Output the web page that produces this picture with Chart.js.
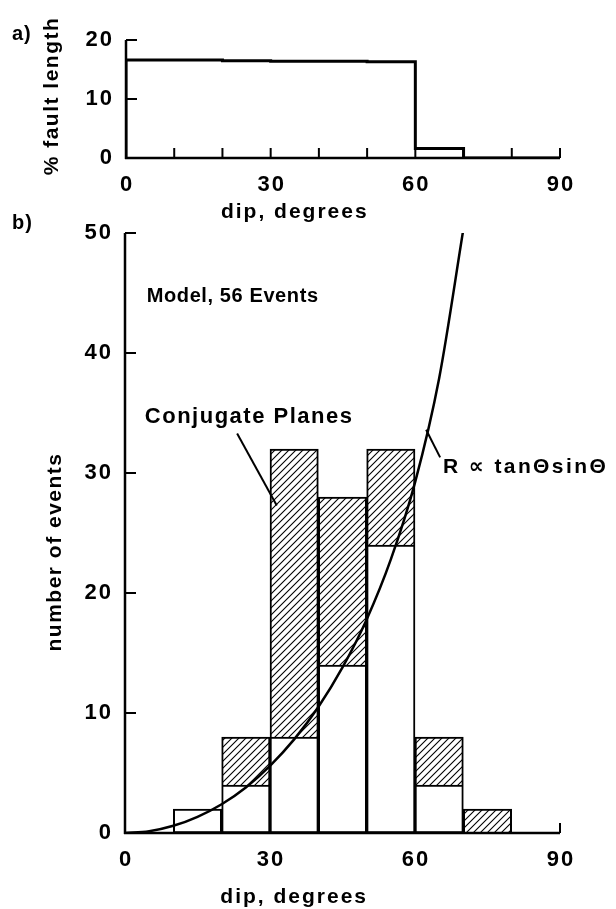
<!DOCTYPE html>
<html>
<head>
<meta charset="utf-8">
<script src="https://cdn.jsdelivr.net/npm/chart.js@4.4.1/dist/chart.umd.min.js"></script>
<style>
  html, body { margin: 0; padding: 0; background: #fff; }
  #wrap { position: relative; width: 616px; height: 909px; overflow: hidden; }
  canvas { position: absolute; left: 0; }
  #faultChart { top: 0; }
  #eventChart { top: 200px; }
</style>
</head>
<body>
<div id="wrap">
  <canvas id="faultChart" width="616" height="230"></canvas>
  <canvas id="eventChart" width="616" height="709"></canvas>
</div>
<script>
// a) fault length per 10 degree dip bin
const binEdges = [0, 10, 20, 30, 40, 50, 60, 70, 80, 90];
const faultLength = [16.6, 16.6, 16.5, 16.4, 16.4, 16.3, 1.6, 0, 0];

// b) events per dip bin (bin centres)
const binCenters = [15, 25, 35, 45, 55, 65, 75];
const modelEvents = [2, 4, 8, 14, 24, 4, 0];
const conjugateEvents = [0, 4, 24, 14, 8, 4, 2];

// R ~ tan(theta) sin(theta) curve
const curveDip = [0, 5, 10, 15, 20, 25, 30, 35, 40, 45, 50, 55, 60, 65, 70];
const curveR = [0, 0.15, 0.6, 1.35, 2.4, 3.8, 5.6, 7.8, 10.5, 13.8, 17.8, 22.8, 29.2, 37.9, 50.3];

// ticks
const dipTicks = [0, 30, 60, 90];
const dipMinorTicks = [10, 20, 30, 40, 50, 60, 70, 80, 90];
const faultTicks = [0, 10, 20];
const eventTicks = [0, 10, 20, 30, 40, 50];

const FONT = "'Liberation Sans', Arial, 'DejaVu Sans', sans-serif";

function drawText(ctx, text, x, y, opts) {
    ctx.save();
    ctx.font = opts.font;
    ctx.letterSpacing = (opts.spacing || 0) + 'px';
    ctx.fillStyle = '#000';
    ctx.textAlign = opts.align || 'left';
    ctx.textBaseline = 'middle';
    ctx.translate(x, y);
    if (opts.rotate) ctx.rotate(opts.rotate);
    ctx.fillText(text, 0, 0);
    ctx.restore();
}

function line(ctx, x1, y1, x2, y2) {
    ctx.beginPath();
    ctx.moveTo(x1, y1);
    ctx.lineTo(x2, y2);
    ctx.stroke();
}

// axes, inward ticks and all texts
function axisDecor(cfg) {
    return {
        id: 'axisDecor',
        afterDatasetsDraw(chart) {
            const { ctx, scales: { x, y } } = chart;
            ctx.save();
            ctx.strokeStyle = '#000';
            ctx.lineCap = 'butt';
            ctx.lineWidth = 2.5;
            line(ctx, x.left, y.top, x.left, y.bottom + 1);
            line(ctx, x.left - 1, y.bottom, x.right, y.bottom);
            ctx.lineWidth = 2;
            cfg.yTicks.forEach(v => {
                const py = y.getPixelForValue(v);
                line(ctx, x.left, py, x.left + 11, py);
            });
            cfg.xMinor.forEach(v => {
                const px = x.getPixelForValue(v);
                line(ctx, px, y.bottom, px, y.bottom - 10);
            });
            ctx.restore();

            const tickFont = 'bold 22px ' + FONT;
            cfg.yTicks.forEach(v => {
                drawText(ctx, String(v), x.left - 12, y.getPixelForValue(v),
                    { font: tickFont, spacing: 2, align: 'right' });
            });
            dipTicks.forEach(v => {
                drawText(ctx, String(v), x.getPixelForValue(v) + 1, y.bottom + cfg.xLabelGap,
                    { font: tickFont, spacing: 2, align: 'center' });
            });
            drawText(ctx, 'dip, degrees', x.getPixelForValue(35), y.bottom + cfg.xTitleGap,
                { font: 'bold 21px ' + FONT, spacing: 2, align: 'center' });
            drawText(ctx, cfg.yTitle, cfg.yTitleX, (y.top + y.bottom) / 2 + cfg.yTitleShift,
                { font: 'bold 21px ' + FONT, spacing: 1.5, align: 'center', rotate: -Math.PI / 2 });
            drawText(ctx, cfg.panel, 12, cfg.panelY, { font: 'bold 20px ' + FONT, spacing: 1 });
            if (cfg.extra) cfg.extra(chart);
        }
    };
}

// hatch for the conjugate planes
function makeHatch() {
    const c = document.createElement('canvas');
    c.width = 7; c.height = 7;
    const g = c.getContext('2d');
    g.fillStyle = '#fff';
    g.fillRect(0, 0, 7, 7);
    g.strokeStyle = '#000';
    g.lineWidth = 1.1;
    g.beginPath();
    g.moveTo(-1, 8); g.lineTo(8, -1);
    g.moveTo(-1, 1); g.lineTo(1, -1);
    g.moveTo(6, 8); g.lineTo(8, 6);
    g.stroke();
    return g.createPattern(c, 'repeat');
}

const hiddenScale = { display: false };

// ---- a) % fault length ----
const faultPoints = [{ x: binEdges[0], y: 0 }]
    .concat(faultLength.map((v, i) => ({ x: binEdges[i], y: v })))
    .concat([{ x: binEdges[binEdges.length - 1], y: 0 }]);

new Chart(document.getElementById('faultChart'), {
    type: 'line',
    data: {
        datasets: [{
            data: faultPoints,
            stepped: 'before',
            borderColor: '#000',
            borderWidth: 3,
            pointRadius: 0,
            fill: false
        }]
    },
    options: {
        responsive: false,
        animation: false,
        devicePixelRatio: 1,
        layout: { padding: { left: 126, right: 56, top: 40, bottom: 72 } },
        plugins: { legend: { display: false }, tooltip: { enabled: false } },
        scales: {
            x: { ...hiddenScale, type: 'linear', min: 0, max: 90 },
            y: { ...hiddenScale, min: 0, max: 20 }
        }
    },
    plugins: [axisDecor({
        yTicks: faultTicks,
        xMinor: dipMinorTicks,
        xLabelGap: 27,
        xTitleGap: 54,
        yTitle: '% fault length',
        yTitleX: 52,
        yTitleShift: -3,
        panel: 'a)',
        panelY: 34
    })]
});

// ---- b) number of events ----
const annotations = [
    { text: 'Model, 56 Events', x: 4.5, y: 44.7, size: 20, spacing: 0.6 },
    { text: 'Conjugate Planes', x: 4.1, y: 34.7, size: 22, spacing: 1.5 },
    { text: 'R \u221D tan\u0398sin\u0398', x: 65.8, y: 30.5, size: 21, spacing: 2.4 }
];
const leaders = [
    { from: [23.2, 33.3], to: [31.4, 27.3] },
    { from: [65.2, 31.3], to: [62.3, 33.6] }
];

new Chart(document.getElementById('eventChart'), {
    type: 'bar',
    data: {
        datasets: [
            {
                type: 'line',
                data: curveDip.map((d, i) => ({ x: d, y: curveR[i] })),
                borderColor: '#000',
                borderWidth: 2.5,
                pointRadius: 0,
                cubicInterpolationMode: 'monotone',
                fill: false,
                order: 0
            },
            {
                label: 'Model',
                data: binCenters.map((c, i) => ({ x: c, y: [0, modelEvents[i]] }))
                    .filter((d, i) => modelEvents[i] > 0),
                backgroundColor: '#fff',
                borderColor: '#000',
                borderWidth: 2,
                borderSkipped: false,
                grouped: false,
                categoryPercentage: 1,
                barPercentage: 1,
                order: 1
            },
            {
                label: 'Conjugate Planes',
                data: binCenters.map((c, i) => ({ x: c, y: [modelEvents[i], modelEvents[i] + conjugateEvents[i]] }))
                    .filter((d, i) => conjugateEvents[i] > 0),
                backgroundColor: makeHatch(),
                borderColor: '#000',
                borderWidth: 2,
                borderSkipped: 'bottom',
                grouped: false,
                categoryPercentage: 1,
                barPercentage: 1,
                order: 2
            }
        ]
    },
    options: {
        responsive: false,
        animation: false,
        devicePixelRatio: 1,
        layout: { padding: { left: 125, right: 56, top: 33, bottom: 76 } },
        plugins: { legend: { display: false }, tooltip: { enabled: false } },
        scales: {
            x: { ...hiddenScale, type: 'linear', min: 0, max: 90, offset: false, ticks: { stepSize: 30 } },
            y: { ...hiddenScale, min: 0, max: 50 }
        }
    },
    plugins: [axisDecor({
        yTicks: eventTicks,
        xMinor: [90],
        xLabelGap: 27,
        xTitleGap: 64,
        yTitle: 'number of events',
        yTitleX: 55,
        yTitleShift: 19,
        panel: 'b)',
        panelY: 23,
        extra(chart) {
            const { ctx, scales: { x, y } } = chart;
            annotations.forEach(a => {
                drawText(ctx, a.text, x.getPixelForValue(a.x), y.getPixelForValue(a.y),
                    { font: 'bold ' + a.size + 'px ' + FONT, spacing: a.spacing });
            });
            ctx.save();
            ctx.strokeStyle = '#000';
            ctx.lineWidth = 2;
            leaders.forEach(l => {
                line(ctx, x.getPixelForValue(l.from[0]), y.getPixelForValue(l.from[1]),
                    x.getPixelForValue(l.to[0]), y.getPixelForValue(l.to[1]));
            });
            ctx.restore();
        }
    })]
});
</script>
</body>
</html>
